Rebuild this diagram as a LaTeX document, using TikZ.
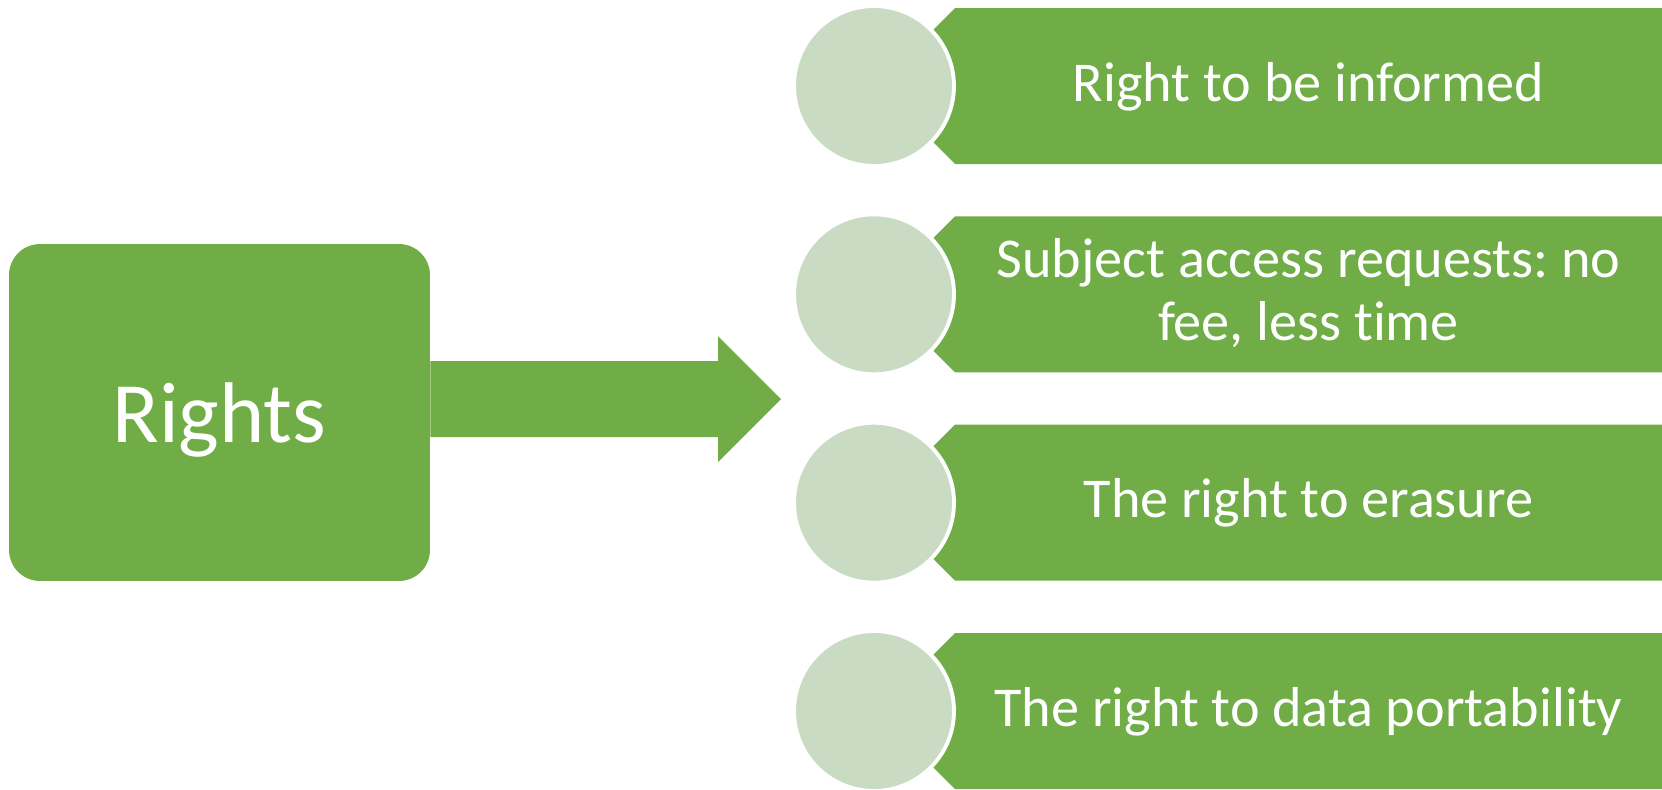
\documentclass[tikz,border=0pt]{standalone}
\usepackage{fontspec}
\setmainfont{Carlito}[Ligatures=NoCommon]
\usetikzlibrary{positioning}
\definecolor{leafgreen}{RGB}{112,173,71}
\definecolor{palegreen}{RGB}{201,220,195}
\tikzset{disc/.style={circle, fill=palegreen, draw=white, line width=2.2pt, minimum size=3.2cm, inner sep=0pt},
banner/.style={fill=leafgreen},
bannertext/.style={text=white, align=center, font=\fontsize{32}{36}\selectfont\frenchspacing, text depth=0pt}}

\begin{document}
\begin{tikzpicture}[x=0.02cm, y=-0.02cm]

    \useasboundingbox (0,0) rectangle (1662,789);

    \node (rights) [fill=leafgreen, rounded corners=0.62cm, minimum width=8.42cm, minimum height=6.74cm,
        text=white, font=\fontsize{49}{58}\selectfont, text height=1.18cm, text depth=0pt] at (219.5,412.5) {Rights};

    \coordinate (tip) at (781,399);
    \fill[leafgreen] ([yshift=1.03cm]rights.east) -- (718,361) -- (718,336) -- (tip)
        -- (718,462) -- (718,437) -- ([yshift=-0.49cm]rights.east) -- cycle;

    \foreach \y/\h/\txt [count=\i] in {86/0.6/{Right to be informed}, 294.3/1.86/{Subject access requests: no\\fee, less time},
        502.7/0.6/{The right to erasure}, 711/0.6/{The right to data portability}}{
        \fill[banner] (1662,\y-78) -- (955,\y-78) -- (877,\y) -- (955,\y+78) -- (1662,\y+78) -- cycle;
        \node (c\i) [disc] at (874,\y) {};
        \node (t\i) [bannertext, text height=\h cm] at (1308.5,\y) {\txt};
    }

\end{tikzpicture}
\end{document}
